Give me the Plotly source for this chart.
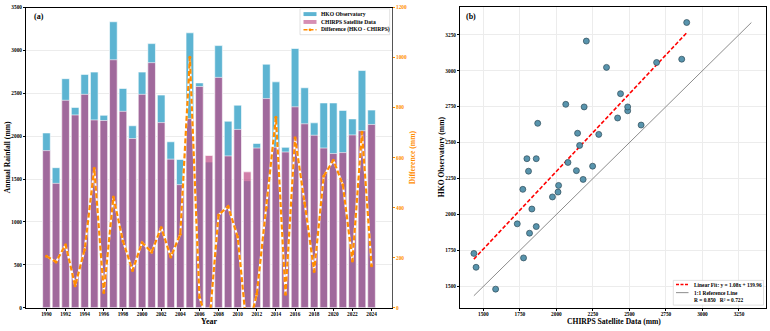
import plotly.graph_objects as go

# ---------------- data ----------------
years = list(range(1990, 2025))
hko = [2038, 1633, 2671, 2336, 2721, 2748, 2244, 3335, 2557, 2122,
       2748, 3080, 2480, 1935, 1729, 3206, 2622, 1698, 3057, 2175,
       2362, 1481, 1916, 2840, 2634, 1870, 3023, 2565, 2156, 2388,
       2388, 2301, 2202, 2766, 2305]
chirps = [1832, 1450, 2419, 2248, 2488, 2190, 2183, 2892, 2290, 1973,
          2488, 2858, 2159, 1732, 1435, 2205, 2580, 1775, 2686, 1770,
          2079, 1584, 1862, 2439, 1872, 1816, 2343, 2145, 2011, 1862,
          1798, 1809, 2015, 2064, 2137]
diff = [h - c for h, c in zip(hko, chirps)]
year_ticks = list(range(1990, 2025, 2))
fit_slope = 1.08
fit_intercept = 139.96
r_value = 0.850
r2_value = 0.722

W, H = 770, 331
BLUE = "#5DB4D2"
PINK = "rgba(190,72,132,0.70)"
PINK_LEG = "rgba(190,72,132,0.62)"
ORANGE = "#FF8C00"
FONT = "Liberation Serif"


def px(x):
    return x / W


def py(y):
    return 1 - y / H


fig = go.Figure()

# ---------------- panel (a) ----------------
fig.add_trace(go.Bar(x=years, y=hko, width=0.8, marker=dict(color=BLUE, line=dict(color="white", width=0.6)),
                     name="HKO Observatory", xaxis="x", yaxis="y", showlegend=False))
fig.add_trace(go.Bar(x=years, y=chirps, width=0.8, marker=dict(color=PINK, line=dict(color="white", width=0.6)),
                     name="CHIRPS Satellite Data", xaxis="x", yaxis="y", showlegend=False))
fig.add_trace(go.Scatter(x=years, y=diff, mode="lines", line=dict(color="white", width=2.0),
                         xaxis="x", yaxis="y2", showlegend=False, hoverinfo="skip"))
fig.add_trace(go.Scatter(x=years, y=diff, mode="lines+markers",
                         line=dict(color=ORANGE, width=2.2, dash="5px,2.5px"),
                         marker=dict(color=ORANGE, size=3),
                         name="Difference (HKO - CHIRPS)", xaxis="x", yaxis="y2", showlegend=False))

# ---------------- panel (b) ----------------
lo = min(min(hko), min(chirps))
hi = max(max(hko), max(chirps))
fig.add_trace(go.Scatter(x=[lo, hi], y=[lo, hi], mode="lines", line=dict(color="#8c8c8c", width=1),
                         xaxis="x2", yaxis="y3", showlegend=False))
fx = [min(chirps), max(chirps)]
fig.add_trace(go.Scatter(x=fx, y=[fit_slope * v + fit_intercept for v in fx], mode="lines",
                         line=dict(color="#FF0000", width=1.6, dash="4px,2px"),
                         xaxis="x2", yaxis="y3", showlegend=False))
fig.add_trace(go.Scatter(x=chirps, y=hko, mode="markers",
                         marker=dict(color="#5894AD", size=6, line=dict(color="#2E4A58", width=0.7)),
                         xaxis="x2", yaxis="y3", showlegend=False))

tickfont = dict(family=FONT, size=5.3, color="black", weight="bold")
axis_common = dict(showline=True, linecolor="black", linewidth=1, mirror=True, ticks="outside",
                   ticklen=2, tickwidth=0.8, tickcolor="black", tickfont=tickfont, zeroline=False)

fig.update_layout(
    width=W, height=H, margin=dict(l=0, r=0, t=0, b=0),
    paper_bgcolor="white", plot_bgcolor="white", barmode="overlay", bargap=0.2,
    showlegend=False,
    xaxis=dict(domain=[px(26), px(392)], range=[1987.86, 2026.14], tickvals=year_ticks,
               showgrid=False, ticklabelstandoff=-1, **axis_common, anchor="y"),
    yaxis=dict(domain=[py(310.3), py(4.7)], range=[0, 3500], dtick=500, showgrid=True,
               gridcolor="#ececec", gridwidth=0.6, **axis_common, anchor="x"),
    yaxis2=dict(overlaying="y", side="right", anchor="x", range=[0, 1200], dtick=200, showgrid=False,
                showline=True, linecolor="#555555", linewidth=1, ticks="outside", ticklen=2,
                tickwidth=0.8, tickcolor=ORANGE, zeroline=False,
                tickfont=dict(family=FONT, size=5.3, color=ORANGE, weight="bold")),
    xaxis2=dict(domain=[px(460), px(766)], range=[1340, 3435], tickvals=list(range(1500, 3251, 250)),
                showgrid=True, gridcolor="#ececec", gridwidth=0.6, ticklabelstandoff=-1,
                **axis_common, anchor="y3"),
    yaxis3=dict(domain=[py(310.3), py(4.5)], range=[1352, 3440], tickvals=list(range(1500, 3251, 250)),
                showgrid=True, gridcolor="#ececec", gridwidth=0.6, **axis_common, anchor="x2"),
)

ann = []
shapes = []


def text(x, y, s, size=7.6, color="black", angle=0, xanchor="center", weight="bold"):
    ann.append(dict(x=px(x), y=py(y), xref="paper", yref="paper", text=s, showarrow=False,
                    xanchor=xanchor, yanchor="middle", textangle=angle,
                    font=dict(family=FONT, size=size, color=color, weight=weight)))


text(7, 157, "Annual Rainfall (mm)", angle=-90)
text(209, 324.8, "Year", size=8)
text(412, 157, "Difference (mm)", color=ORANGE, angle=-90)
text(38.5, 14, "(a)", size=8)
text(471.5, 14, "(b)", size=8)
text(441, 157, "HKO Observatory (mm)", angle=-90)
text(613.5, 324.8, "CHIRPS Satellite Data (mm)")

# legend (a)
shapes.append(dict(type="rect", xref="paper", yref="paper", x0=px(300), x1=px(389.7), y0=py(32.3), y1=py(6),
                   fillcolor="rgba(255,255,255,0.85)", line=dict(color="#cccccc", width=0.6)))
shapes.append(dict(type="rect", xref="paper", yref="paper", x0=px(303.5), x1=px(316.5), y0=py(13.3), y1=py(9.3),
                   fillcolor=BLUE, line=dict(width=0)))
shapes.append(dict(type="rect", xref="paper", yref="paper", x0=px(303.5), x1=px(316.5), y0=py(21.3), y1=py(17.3),
                   fillcolor=PINK_LEG, line=dict(width=0)))
shapes.append(dict(type="line", xref="paper", yref="paper", x0=px(303.5), x1=px(316.5), y0=py(27.3), y1=py(27.3),
                   line=dict(color=ORANGE, width=1.6, dash="4px,2px")))
shapes.append(dict(type="circle", xref="paper", yref="paper", x0=px(308.6), x1=px(311.4), y0=py(28.7), y1=py(25.9),
                   fillcolor=ORANGE, line=dict(width=0)))
text(319, 11.3, "HKO Observatory", size=5.6, xanchor="left")
text(319, 19.3, "CHIRPS Satellite Data", size=5.6, xanchor="left")
text(319, 27.3, "Difference (HKO - CHIRPS)", size=5.6, xanchor="left")

# legend (b)
shapes.append(dict(type="rect", xref="paper", yref="paper", x0=px(673.3), x1=px(763.5), y0=py(307.7), y1=py(282.5),
                   fillcolor="rgba(255,255,255,0.85)", line=dict(color="#cccccc", width=0.6)))
shapes.append(dict(type="line", xref="paper", yref="paper", x0=px(676), x1=px(688.5), y0=py(286.7), y1=py(286.7),
                   line=dict(color="#FF0000", width=1.4, dash="3px,1.5px")))
shapes.append(dict(type="line", xref="paper", yref="paper", x0=px(676), x1=px(688.5), y0=py(295), y1=py(295),
                   line=dict(color="#8c8c8c", width=1)))
text(691.5, 286.7, f"Linear Fit: y = {fit_slope:.2f}x + {fit_intercept:.2f}", size=5.4, xanchor="left")
text(691.5, 295, "1:1 Reference Line", size=5.4, xanchor="left")
text(691.5, 302.8, f"R = {r_value:.3f}   R² = {r2_value:.3f}", size=5.4, xanchor="left")

fig.update_layout(annotations=ann, shapes=shapes)
fig.write_html("out.html")
